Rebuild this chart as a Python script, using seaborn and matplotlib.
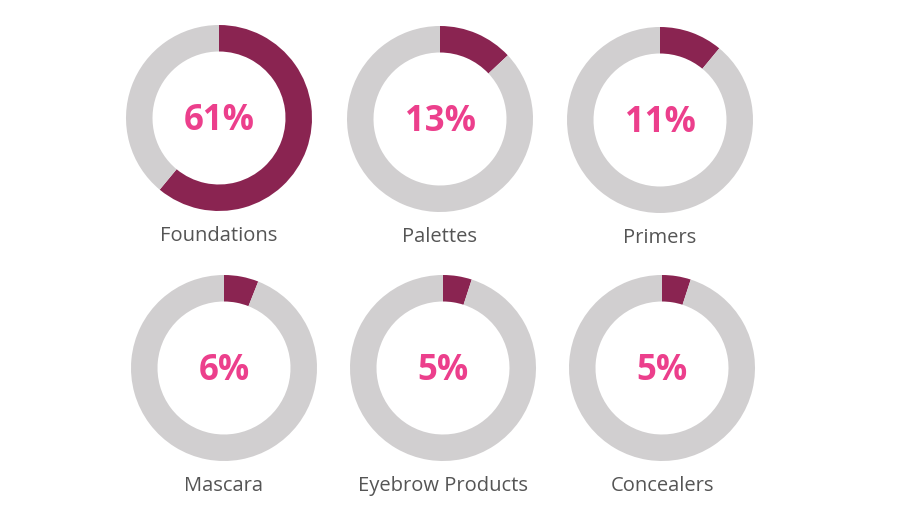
import matplotlib
matplotlib.use("Agg")
import matplotlib.pyplot as plt
import seaborn as sns

# share of products (percent)
categories = ["Foundations", "Palettes", "Primers", "Mascara", "Eyebrow Products", "Concealers"]
shares = [61, 13, 11, 6, 5, 5]

# donut centres in pixels (from top-left) and radius
centers_x = [219, 440, 660, 224, 443, 662]
centers_y = [118, 119, 120, 368, 368, 368]
radius = 93

sns.set_theme(style="white")
plt.rcParams["font.family"] = ["Open Sans", "DejaVu Sans"]

W, H = 918, 522
fig = plt.figure(figsize=(W / 100, H / 100), dpi=100)

maroon = "#8a2451"
grey = "#d1cfd0"
pink = "#ec3f8c"

for name, val, cx, cy in zip(categories, shares, centers_x, centers_y):
    left = (cx - radius) / W
    bottom = (H - cy - radius) / H
    ax = fig.add_axes([left, bottom, 2 * radius / W, 2 * radius / H])
    ax.pie([val, 100 - val], colors=[maroon, grey], startangle=90,
           counterclock=False, radius=1,
           wedgeprops=dict(width=0.285, edgecolor="none"))
    ax.set_xlim(-1, 1)
    ax.set_ylim(-1, 1)
    ax.set_aspect("equal")
    ax.axis("off")
    ax.text(0, -0.03, f"{val}%", ha="center", va="center", fontsize=25,
            fontweight="bold", color=pink)
    fig.text(cx / W, 1 - (cy + 118) / H, name, ha="center", va="center",
             fontsize=14.5, color="#555555")

fig.savefig("out.png", dpi=100)
